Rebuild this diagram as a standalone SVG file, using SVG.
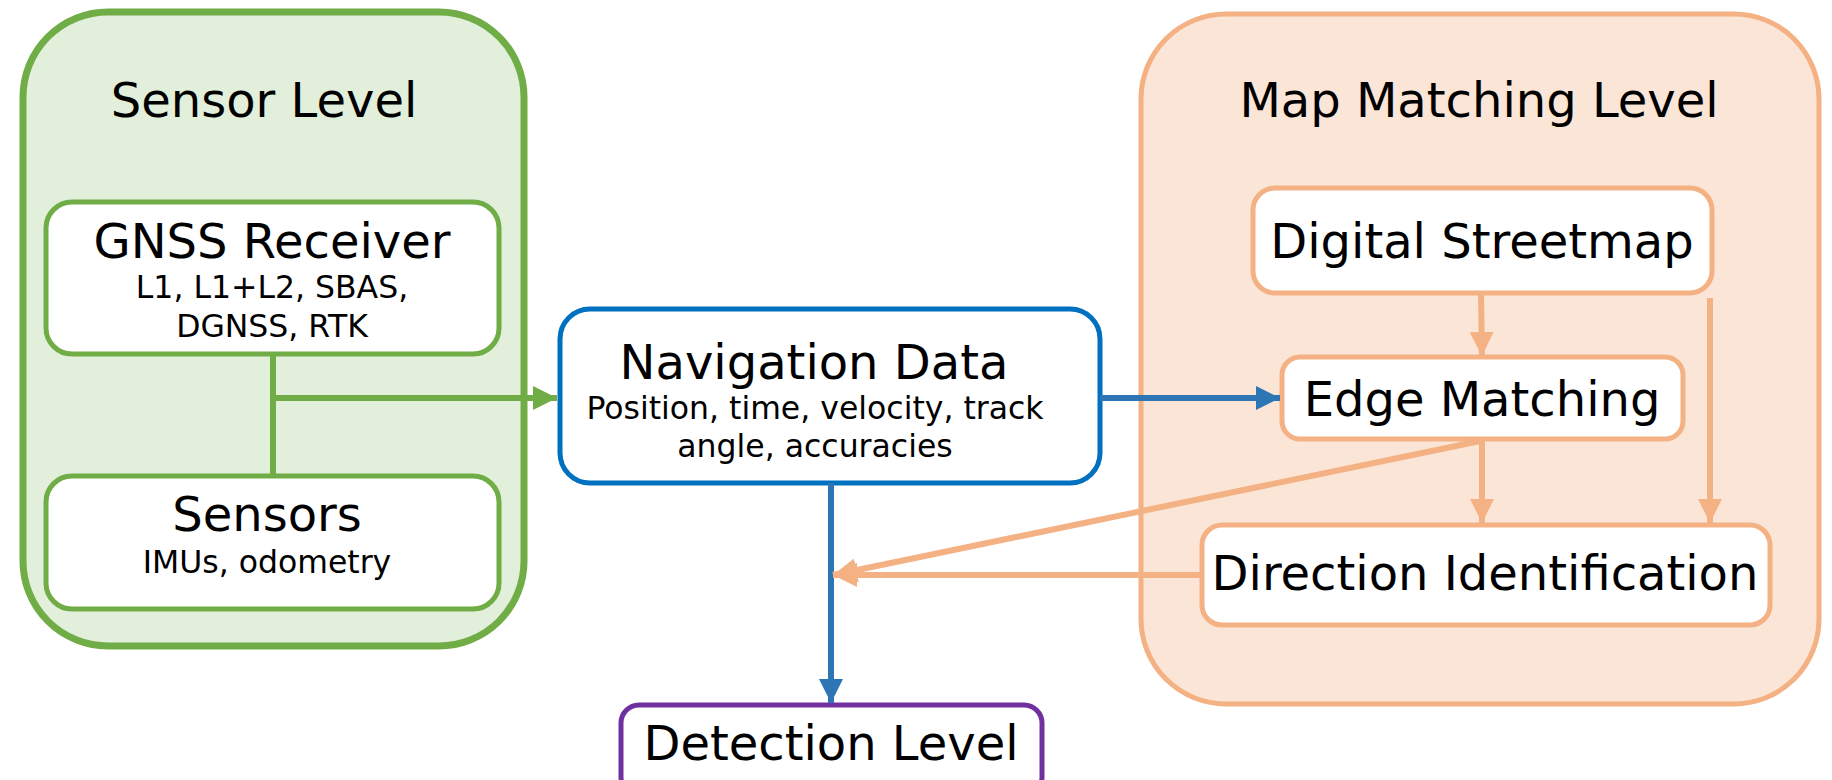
<svg xmlns="http://www.w3.org/2000/svg" width="1832" height="780" viewBox="0 0 1832 780">
<style>
text{font-family:"DejaVu Sans",Verdana,sans-serif;fill:#000;text-anchor:middle}
.t{font-size:48px}
.s{font-size:31.5px}
.g{stroke:#70AD47}
.o{stroke:#F4B183}
.b{stroke:#2E75B6}
.line{fill:none;stroke-width:6}
</style>
<defs>
<marker id="ag" viewBox="0 0 10 10" refX="10" refY="5" markerWidth="4" markerHeight="4" orient="auto" markerUnits="strokeWidth"><path d="M0,0L10,5L0,10z" fill="#70AD47"/></marker>
<marker id="ab" viewBox="0 0 10 10" refX="10" refY="5" markerWidth="4" markerHeight="4" orient="auto" markerUnits="strokeWidth"><path d="M0,0L10,5L0,10z" fill="#2E75B6"/></marker>
<marker id="ao" viewBox="0 0 10 10" refX="10" refY="5" markerWidth="4" markerHeight="4" orient="auto" markerUnits="strokeWidth"><path d="M0,0L10,5L0,10z" fill="#F4B183"/></marker>
</defs>
<g id="sensor-level">
<rect x="23" y="12" width="501" height="634" rx="85" fill="#E2EFDA" stroke="#70AD47" stroke-width="7"/>
<text class="t" x="264" y="117">Sensor Level</text>
</g>
<g id="map-matching-level">
<rect x="1141" y="14" width="678" height="690" rx="85" fill="#FBE5D6" stroke="#F4B183" stroke-width="5"/>
<text class="t" x="1479" y="117">Map Matching Level</text>
</g>
<g id="gnss-receiver">
<rect x="46" y="202" width="453" height="152" rx="26" fill="#fff" stroke="#70AD47" stroke-width="5"/>
<text class="t" x="272" y="258">GNSS Receiver</text>
<text class="s" x="272" y="298">L1, L1+L2, SBAS,</text>
<text class="s" x="272" y="337">DGNSS, RTK</text>
</g>
<g id="sensors">
<rect x="46" y="476" width="453" height="133" rx="26" fill="#fff" stroke="#70AD47" stroke-width="5"/>
<text class="t" x="267" y="531">Sensors</text>
<text class="s" x="267" y="573">IMUs, odometry</text>
</g>
<g id="navigation-data">
<rect x="560" y="309" width="540" height="174" rx="30" fill="#fff" stroke="#0070C0" stroke-width="5"/>
<text class="t" x="814" y="379">Navigation Data</text>
<text class="s" x="815" y="419">Position, time, velocity, track</text>
<text class="s" x="815" y="457">angle, accuracies</text>
</g>
<g id="detection-level">
<rect x="621" y="705" width="421" height="90" rx="18" fill="#fff" stroke="#7030A0" stroke-width="5"/>
<text class="t" x="831" y="760">Detection Level</text>
</g>
<g id="digital-streetmap">
<rect x="1253" y="188" width="459" height="105" rx="22" fill="#fff" stroke="#F4B183" stroke-width="5"/>
<text class="t" x="1482" y="258">Digital Streetmap</text>
</g>
<g id="edge-matching">
<rect x="1282" y="357" width="401" height="82" rx="18" fill="#fff" stroke="#F4B183" stroke-width="5"/>
<text class="t" x="1482" y="416">Edge Matching</text>
</g>
<g id="direction-identification">
<rect x="1202" y="525" width="568" height="100" rx="20" fill="#fff" stroke="#F4B183" stroke-width="5"/>
<text class="t" x="1485" y="590">Direction Identification</text>
</g>
<g id="connectors">
<line class="line g" x1="273" y1="354" x2="273" y2="476"/>
<line class="line g" x1="270" y1="398" x2="557" y2="398" marker-end="url(#ag)"/>
<line class="line b" x1="1100" y1="398" x2="1280" y2="398" marker-end="url(#ab)"/>
<line class="line b" x1="831" y1="483" x2="831" y2="703" marker-end="url(#ab)"/>
<line class="line o" x1="1481" y1="294" x2="1482" y2="356" marker-end="url(#ao)"/>
<line class="line o" x1="1482" y1="439" x2="1482" y2="523" marker-end="url(#ao)"/>
<line class="line o" x1="1710" y1="298" x2="1710" y2="523" marker-end="url(#ao)"/>
<line class="line o" x1="1480" y1="441" x2="833" y2="575" marker-end="url(#ao)"/>
<line class="line o" x1="1202" y1="575" x2="833" y2="575" marker-end="url(#ao)"/>
</g>
</svg>
